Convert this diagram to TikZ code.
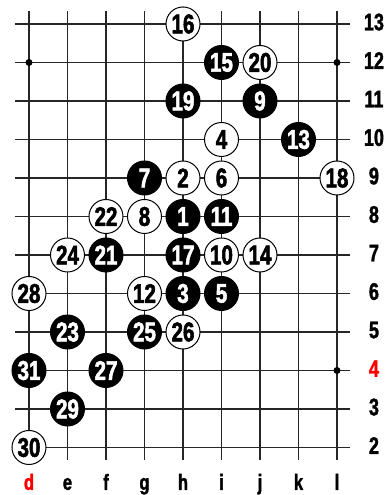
\documentclass[tikz,border=0pt]{standalone}
\usepackage{fontspec}
\usepackage{xcolor}
\newfontfamily\stonefont{Liberation Sans}[UprightFont=* Bold, FakeStretch=0.76, FakeBold=2]
\newfontfamily\coordfont{Liberation Sans}[UprightFont=* Bold, FakeStretch=0.75, FakeBold=1.5]
\begin{document}
\begin{tikzpicture}[
  x=38.5pt, y=38.5pt,
  gridline/.style={line width=1.1pt, draw=black!85},
  hoshi/.style={circle, fill=black, inner sep=0pt, minimum size=7pt},
  bstone/.style={circle, draw=black, fill=black, text=white, line width=1pt,
                 minimum size=34pt, inner sep=0pt,
                 font=\stonefont\fontsize{27}{27}\selectfont},
  wstone/.style={bstone, fill=white, text=black},
  collbl/.style={anchor=base, inner sep=0pt, font=\coordfont\fontsize{22}{22}\selectfont},
  rowlbl/.style={inner sep=0pt, font=\coordfont\fontsize{24}{24}\selectfont},
]
\useasboundingbox[fill=white] (-0.753,-1.234) rectangle (9.247,11.623);
% board lines
\foreach \c in {0,...,8}
  \draw[gridline] (\c,-0.325) -- (\c,11.338);
\foreach \r in {0,...,11}
  \draw[gridline] (-0.364,\r) -- (8.338,\r);
% star points
\node[hoshi] (hoshiA) at (0,10) {};
\node[hoshi] (hoshiB) at (8,10) {};
\node[hoshi] (hoshiC) at (8,2) {};
% black stones
\foreach \n/\c/\r in {1/4/6, 3/4/4, 5/5/4, 7/3/7, 9/6/9, 11/5/6, 13/7/8, 15/5/10,
                      17/4/5, 19/4/9, 21/2/5, 23/1/3, 25/3/3, 27/2/2, 29/1/1, 31/0/2}
  \node[bstone] (mv\n) at (\c,\r) {\n};
% white stones
\foreach \n/\c/\r in {2/4/7, 4/5/8, 6/5/7, 8/3/6, 10/5/5, 12/3/4, 14/6/5, 16/4/11,
                      18/8/7, 20/6/10, 22/2/6, 24/1/5, 26/4/3, 28/0/4, 30/0/0}
  \node[wstone] (mv\n) at (\c,\r) {\n};
% coordinates
\foreach \l/\cl [count=\i from 0] in {d/red,e/black,f/black,g/black,h/black,
                                      i/black,j/black,k/black,l/black}
  \node[collbl, text=\cl] (col\l) at (\i,-1.1) {\l};
\foreach \r/\cl in {2/black,3/black,4/red,5/black,6/black,7/black,
                    8/black,9/black,10/black,11/black,12/black,13/black}
  \node[rowlbl, text=\cl] (row\r) at (8.96,\r-2+0.05) {\r};
\end{tikzpicture}
\end{document}
